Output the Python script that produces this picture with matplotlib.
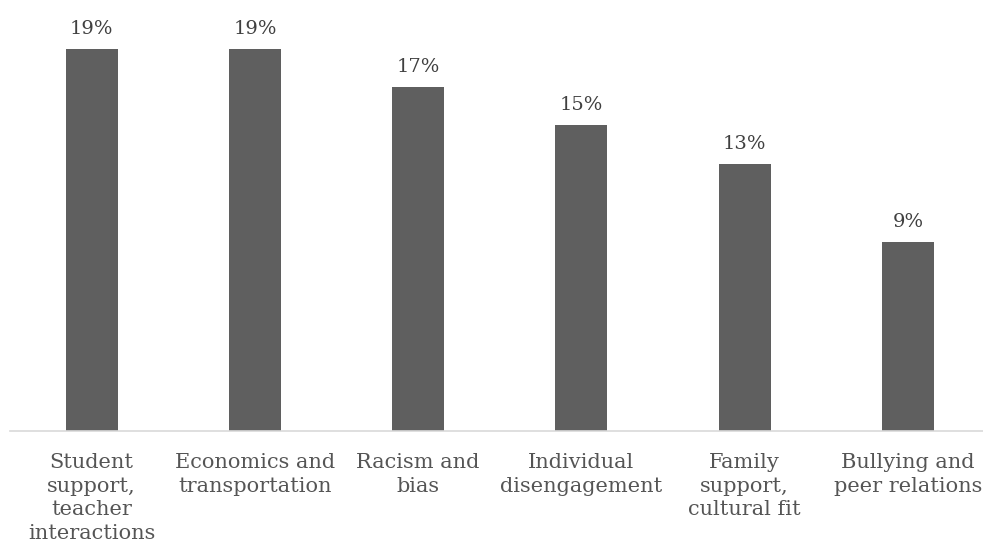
import matplotlib.pyplot as plt

categories = ['Student\nsupport,\nteacher\ninteractions',
              'Economics and\ntransportation',
              'Racism and\nbias',
              'Individual\ndisengagement',
              'Family\nsupport,\ncultural fit',
              'Bullying and\npeer relations']
values = [19.0, 19.0, 17.1, 15.2, 13.3, 9.4]

plt.rcParams['font.family'] = ['DejaVu Serif']

fig = plt.figure(figsize=(9.83, 5.52), dpi=100)
ax = fig.add_axes([10 / 983, (552 - 431) / 552, 973 / 983, 431 / 552])

x = list(range(len(categories)))
ax.bar(x, values, width=0.318, color='#5f5f5f')

for xi, v in zip(x, values):
    ax.text(xi, v + 0.55, '%d%%' % round(v), ha='center', va='bottom',
            fontsize=14, color='#404040')

ax.set_xlim(-0.5, 5.46)
ax.set_ylim(0, 21.44)
ax.set_xticks(x)
ax.set_xticklabels(categories, fontsize=15, color='#555555', linespacing=1.3)
ax.tick_params(axis='x', length=0, pad=16)
ax.set_yticks([])
for s in ['top', 'right', 'left']:
    ax.spines[s].set_visible(False)
ax.spines['bottom'].set_color('#d9d9d9')
ax.spines['bottom'].set_linewidth(1.2)

fig.savefig('out.png', dpi=100)
